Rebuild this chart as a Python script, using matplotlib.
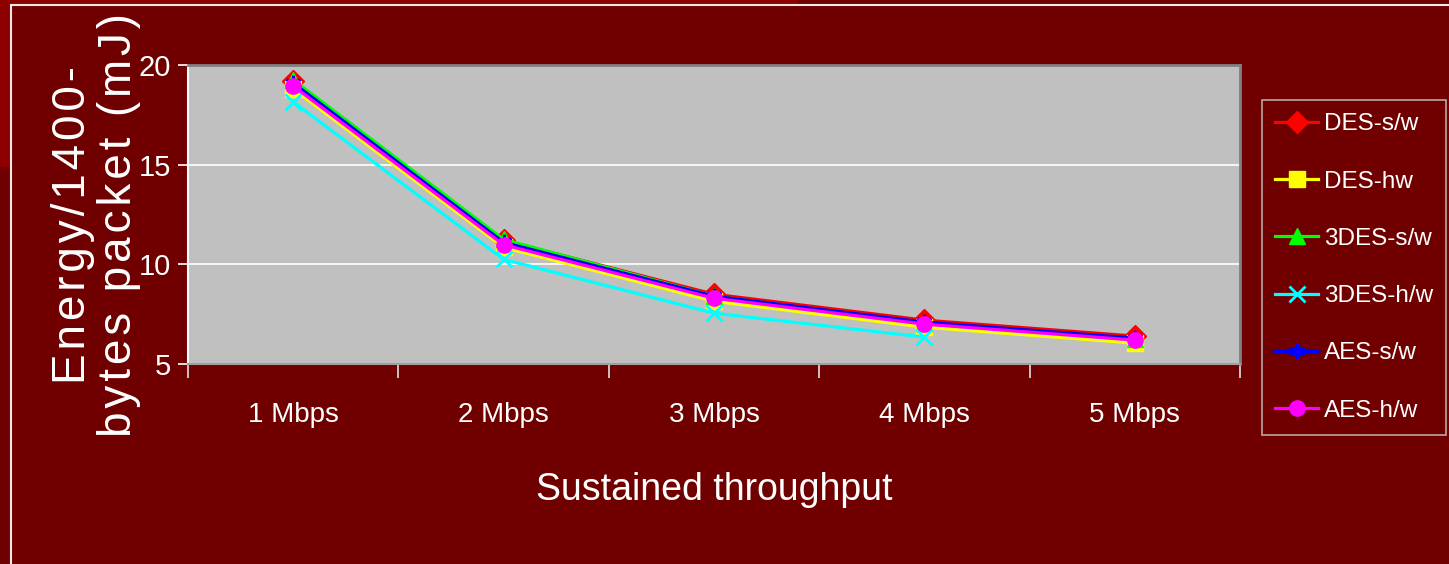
import matplotlib.pyplot as plt
import numpy as np
from matplotlib.patches import Rectangle

# energy per 1400-byte packet (mJ) at each sustained throughput
categories = ['1 Mbps', '2 Mbps', '3 Mbps', '4 Mbps', '5 Mbps']
des_sw = [19.2, 11.2, 8.5, 7.2, 6.4]
des_hw = [18.8, 10.85, 8.15, 6.85, 6.05]
tdes_sw = [19.25, 11.25, 8.4, 7.05, 6.25]
tdes_hw = [18.15, 10.25, 7.55, 6.35, np.nan]
aes_sw = [19.1, 11.1, 8.4, 7.1, 6.3]
aes_hw = [18.95, 10.98, 8.3, 7.0, 6.2]

series = [
    ('DES-s/w', des_sw, '#ff0000', 'D'),
    ('DES-hw', des_hw, '#ffff00', 's'),
    ('3DES-s/w', tdes_sw, '#00ff00', '^'),
    ('3DES-h/w', tdes_hw, '#00ffff', 'x'),
    ('AES-s/w', aes_sw, '#0000ff', (6, 2, 0)),
    ('AES-h/w', aes_hw, '#ff00ff', 'o'),
]

font = ['Liberation Sans', 'DejaVu Sans']
bg = '#700000'

fig = plt.figure(figsize=(14.49, 5.64), dpi=100)
fig.patch.set_facecolor(bg)
# brighter corner of the slide behind the framed panel
fig.patches.append(Rectangle((0, 1 - 167 / 564), 0.55, 167 / 564,
                             transform=fig.transFigure, facecolor='#8e0000',
                             edgecolor='none', zorder=-6))
fig.patches.append(Rectangle((11 / 1449, -0.1), 1.2, 1.1 - 5 / 564,
                             transform=fig.transFigure, facecolor=bg,
                             edgecolor='#e8e8e8', linewidth=1.5, zorder=-5))

ax = fig.add_axes([188 / 1449, 1 - 364 / 564, (1240 - 188) / 1449, (364 - 65) / 564])
ax.set_facecolor('#c0c0c0')

x = np.arange(len(categories))
for name, vals, col, mk in series:
    ax.plot(x, vals, color=col, linewidth=2.3, marker=mk, markersize=11,
            markeredgewidth=2 if mk in ('x', (6, 2, 0)) else 1,
            markeredgecolor=col, label=name)

ax.set_xlim(-0.5, len(categories) - 0.5)
ax.set_ylim(5, 20)
ax.set_yticks([5, 10, 15, 20])
ax.yaxis.grid(True, color='white', linewidth=1.2)
ax.set_axisbelow(True)

ax.set_xticks(x)
ax.set_xticklabels(categories, family=font, fontsize=20, color='white')
ax.set_xticks(np.arange(len(categories) + 1) - 0.5, minor=True)
ax.tick_params(axis='x', which='major', length=0, pad=27)
ax.tick_params(axis='x', which='minor', length=10, width=1.2, color='#e0e0e0')
ax.tick_params(axis='y', length=7, width=1.2, color='white', labelcolor='white',
               labelsize=21, pad=5)
for lbl in ax.get_yticklabels():
    lbl.set_family(font)

for s in ('top', 'right'):
    ax.spines[s].set_color('#808080')
    ax.spines[s].set_linewidth(2)
ax.spines['left'].set_color('white')
ax.spines['left'].set_linewidth(1.5)
ax.spines['bottom'].set_color('#a0a0a0')
ax.spines['bottom'].set_linewidth(1.5)

ax.set_xlabel('Sustained throughput', family=font, fontsize=27, color='white',
              labelpad=32)

hs = '\u200a'
line1 = hs.join('Energy/1400-')
line2 = hs.join('bytes packet (mJ)')
fig.text(96 / 1449, 1 - 225 / 564, line1 + '\n' + line2,
         rotation=90, ha='center', va='center', multialignment='center',
         family=font, fontsize=33, color='white', linespacing=1.05)

leg = fig.legend(loc='upper left', bbox_to_anchor=(1262 / 1449, 1 - 100 / 564),
                 prop={'family': font, 'size': 17.5}, labelcolor='white',
                 frameon=True, fancybox=False, handlelength=1.75,
                 handletextpad=0.25, labelspacing=1.45, borderpad=0.55,
                 borderaxespad=0)
leg.get_frame().set_facecolor(bg)
leg.get_frame().set_edgecolor('#d0d0d0')
leg.get_frame().set_linewidth(1.2)

fig.savefig('out.png', dpi=100, facecolor=fig.get_facecolor())
